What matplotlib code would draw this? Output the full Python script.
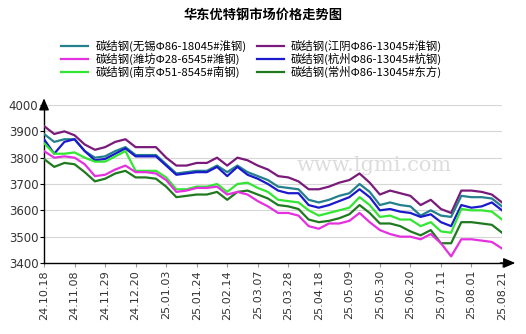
# Import libraries
import numpy as np
import matplotlib.pyplot as plt

plt.rcParams['font.family'] = ['Noto Sans CJK SC', 'DejaVu Sans']

# weekly dates (first of each 3 weeks is labelled)
tick_labels = ["24.10.18", "24.11.08", "24.11.29", "24.12.20", "25.01.03", "25.01.24",
               "25.02.14", "25.03.07", "25.03.28", "25.04.18", "25.05.09", "25.05.30",
               "25.06.20", "25.07.11", "25.08.01", "25.08.21"]

names = ["碳结钢(无锡Φ86-18045#淮钢)", "碳结钢(潍坊Φ28-6545#潍钢)", "碳结钢(南京Φ51-8545#南钢)",
         "碳结钢(江阴Φ86-13045#淮钢)", "碳结钢(杭州Φ86-13045#杭钢)", "碳结钢(常州Φ86-13045#东方)"]
colors = ["#23808c", "#e530e0", "#33e633", "#7a1a7a", "#1a1acc", "#1f7a1f"]

wuxi = [3890, 3860, 3870, 3870, 3825, 3800, 3805, 3825, 3840, 3810, 3810, 3810, 3775, 3740, 3745, 3750,
        3750, 3770, 3745, 3770, 3745, 3730, 3715, 3690, 3685, 3680, 3640, 3630, 3640, 3655, 3665, 3700,
        3670, 3620, 3630, 3620, 3615, 3580, 3600, 3580, 3575, 3655, 3650, 3650, 3645, 3615]
weifang = [3825, 3800, 3805, 3800, 3775, 3730, 3735, 3755, 3770, 3745, 3745, 3740, 3715, 3670, 3675, 3685,
           3685, 3690, 3660, 3670, 3660, 3635, 3615, 3590, 3590, 3580, 3540, 3530, 3550, 3550, 3560, 3590,
           3555, 3525, 3510, 3500, 3500, 3490, 3510, 3475, 3425, 3490, 3490, 3485, 3480, 3455]
nanjing = [3855, 3815, 3815, 3820, 3800, 3785, 3785, 3805, 3825, 3750, 3750, 3750, 3725, 3680, 3680, 3690,
           3690, 3700, 3670, 3700, 3705, 3685, 3670, 3640, 3635, 3630, 3600, 3580, 3590, 3600, 3610, 3650,
           3620, 3575, 3580, 3565, 3565, 3540, 3555, 3520, 3515, 3605, 3600, 3600, 3595, 3565]
jiangyin = [3920, 3890, 3900, 3885, 3850, 3830, 3840, 3860, 3870, 3840, 3840, 3840, 3800, 3770, 3770, 3780,
            3780, 3800, 3770, 3800, 3790, 3770, 3755, 3730, 3725, 3710, 3680, 3680, 3690, 3705, 3715, 3740,
            3705, 3660, 3675, 3665, 3655, 3620, 3640, 3605, 3590, 3675, 3675, 3670, 3660, 3630]
hangzhou = [3870, 3815, 3860, 3870, 3825, 3790, 3795, 3815, 3835, 3805, 3805, 3805, 3770, 3735, 3740, 3745,
            3745, 3765, 3730, 3765, 3735, 3720, 3700, 3675, 3665, 3665, 3620, 3610, 3620, 3635, 3650, 3680,
            3650, 3600, 3605, 3595, 3590, 3575, 3585, 3555, 3540, 3620, 3610, 3615, 3630, 3600]
changzhou = [3795, 3765, 3780, 3775, 3745, 3710, 3720, 3740, 3750, 3725, 3725, 3720, 3690, 3650, 3655, 3660,
             3660, 3670, 3640, 3670, 3675, 3660, 3645, 3620, 3615, 3605, 3565, 3555, 3560, 3570, 3585, 3620,
             3590, 3550, 3550, 3540, 3520, 3505, 3525, 3475, 3475, 3555, 3555, 3550, 3545, 3515]

series = [wuxi, weifang, nanjing, jiangyin, hangzhou, changzhou]
weeks = np.arange(len(wuxi))

fig = plt.figure(figsize=(5.26, 3.34), dpi=100)
ax = fig.add_axes([0.0837, 0.2126, 0.8707, 0.473])

# watermark
ax.text(0.72, 0.62, "www.lgmi.com", transform=ax.transAxes, fontsize=15,
        color="#bbbbbb", alpha=0.5, ha="center", va="center", family="DejaVu Serif", zorder=0)

for y in [3500, 3600, 3700, 3800, 3900, 4000]:
    ax.axhline(y, color="#d6d6d6", lw=0.8, zorder=1)

order = [3, 0, 4, 2, 5, 1]
for i in order:
    ax.plot(weeks, series[i], color=colors[i], lw=1.6, label=names[i], zorder=3)

ax.set_xlim(0, 45)
ax.set_ylim(3400, 4000)
ax.set_yticks([3400, 3500, 3600, 3700, 3800, 3900, 4000])
ax.set_xticks(np.arange(0, 46, 3))
ax.set_xticklabels(tick_labels, rotation=90, family="DejaVu Sans", fontsize=8, color="#333333")
for t in ax.get_yticklabels():
    t.set_family("DejaVu Sans")
    t.set_fontsize(8.5)
    t.set_color("#333333")
ax.tick_params(axis="y", length=3, pad=1)
ax.tick_params(axis="x", length=3, pad=2, color="#999999")
ax.spines["top"].set_visible(False)
ax.spines["right"].set_visible(False)
ax.spines["left"].set_linewidth(1.0)
ax.spines["bottom"].set_linewidth(1.0)

# axis arrows
ax.annotate("", xy=(1.035, 0), xytext=(0.99, 0), xycoords="axes fraction",
            arrowprops=dict(arrowstyle="-|>,head_length=0.7,head_width=0.3", color="black", lw=1.0),
            annotation_clip=False)
ax.annotate("", xy=(0, 1.06), xytext=(0, 0.98), xycoords="axes fraction",
            arrowprops=dict(arrowstyle="-|>,head_length=0.7,head_width=0.3", color="black", lw=1.0),
            annotation_clip=False)

fig.text(0.5, 0.955, "华东优特钢市场价格走势图", ha="center", va="center", fontsize=9.5, fontweight="bold")

handles, labels = ax.get_legend_handles_labels()
lmap = dict(zip(labels, handles))
fig.legend([lmap[n] for n in names], names, ncol=2, loc="center", bbox_to_anchor=(0.478, 0.823),
           frameon=False, fontsize=8.2, handlelength=2.4, labelspacing=0.05, columnspacing=0.9,
           handletextpad=0.6, borderpad=0.1)

fig.savefig("out.png", dpi=100)
